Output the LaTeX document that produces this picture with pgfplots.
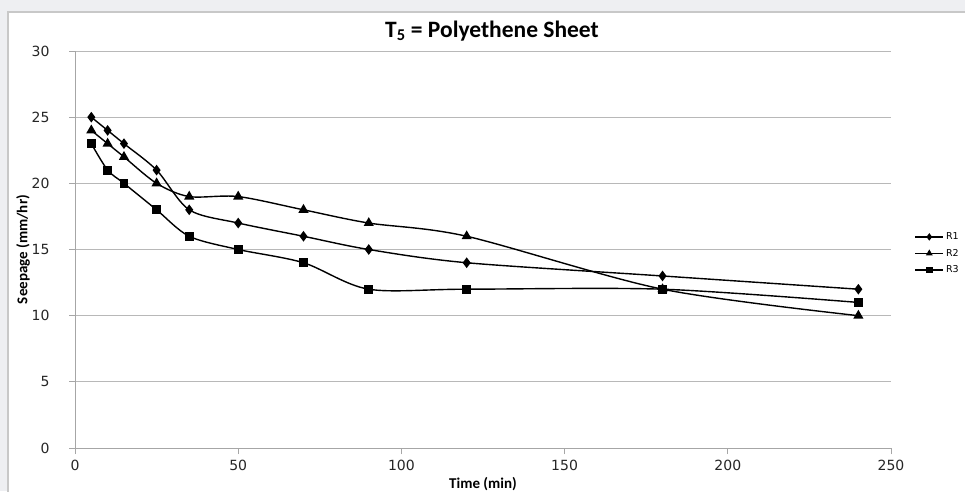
\documentclass[border=0pt]{standalone}
\usepackage{pgfplots}
\pgfplotsset{compat=1.18}
\usepackage{fontspec}
\setmainfont{Carlito}
\newfontfamily\dejavu{DejaVu Sans}
\definecolor{bgout}{HTML}{EEEFF2}
\definecolor{framec}{HTML}{C8C8C8}
\definecolor{gridc}{HTML}{B8B8B8}
\definecolor{axisc}{HTML}{A6A6A6}
\begin{document}
\begin{tikzpicture}[x=1pt,y=1pt]
\fill[bgout] (0,0) rectangle (965,491);
\fill[white] (8,-5) rectangle (975,479);
\draw[framec, line width=1.2pt] (8,-5) -- (8,479) -- (975,479);
\begin{axis}[
  at={(75pt,43pt)}, anchor=south west,
  scale only axis, width=816pt, height=397pt,
  xmin=0, xmax=250, ymin=0, ymax=30,
  xtick={0,50,...,250}, ytick={0,5,...,30},
  axis x line*=bottom, axis y line*=left,
  axis line style={-, draw=axisc, line width=0.9pt},
  tick align=outside, major tick length=6pt,
  tick style={draw=axisc, line width=0.9pt},
  ymajorgrids, grid style={draw=gridc, line width=0.9pt},
  /pgf/number format/assume math mode=true,
  ticklabel style={font=\dejavu\fontsize{14}{16}\selectfont, text=black!85},
  xticklabel style={yshift=-3pt},
  yticklabel style={xshift=-16pt},
  xlabel={\textbf{Time (min)}},
  ylabel={\textbf{Seepage (mm/hr)}},
  xlabel style={font=\fontsize{15}{16}\selectfont, at={(axis description cs:0.5,-0.103)}, anchor=base},
  ylabel style={font=\fontsize{15}{16}\selectfont, at={(axis description cs:-0.0637,0.5)}, anchor=center, rotate=0},
  every axis title shift=0pt,
  title={\textbf{T\textsubscript{5} = Polyethene Sheet}},
  title style={font=\fontsize{23.5}{25}\selectfont, at={(axis description cs:0.511,1.035)}, anchor=base},
  legend style={at={(1.025,0.49)}, anchor=west, draw=none, fill=none,
    font=\dejavu\fontsize{9.5}{12}\selectfont, row sep=4pt},
  legend cell align=left,
  legend image code/.code={\draw[mark repeat=2,mark phase=2,#1,mark size=2.6pt] plot coordinates {(0pt,0pt) (14pt,0pt) (28pt,0pt)};},
]
\addplot[black, line width=1.4pt, smooth, tension=0.5, mark=diamond*, mark size=4.2pt, mark options={solid}]
coordinates {(5,25) (10,24) (15,23) (25,21) (35,18) (50,17) (70,16) (90,15) (120,14) (180,13) (240,12)};
\addlegendentry{R1}
\addplot[black, line width=1.4pt, smooth, tension=0.5, mark=triangle*, mark size=4.5pt, mark options={solid}]
coordinates {(5,24) (10,23) (15,22) (25,20) (35,19) (50,19) (70,18) (90,17) (120,16) (180,12) (240,10)};
\addlegendentry{R2}
\addplot[black, line width=1.4pt, smooth, tension=0.5, mark=square*, mark size=3.7pt, mark options={solid}]
coordinates {(5,23) (10,21) (15,20) (25,18) (35,16) (50,15) (70,14) (90,12) (120,12) (180,12) (240,11)};
\addlegendentry{R3}
\end{axis}
\pgfresetboundingbox
\path[use as bounding box] (0,0) rectangle (965,491);
\end{tikzpicture}
\end{document}
